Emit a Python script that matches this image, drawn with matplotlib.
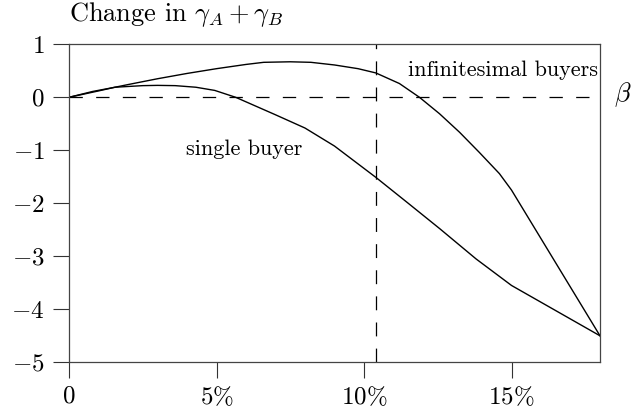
import matplotlib
matplotlib.use("Agg")
import matplotlib.pyplot as plt

plt.rcParams['font.family'] = ['cmr10']
plt.rcParams['mathtext.fontset'] = 'cm'
plt.rcParams['axes.unicode_minus'] = False
plt.rcParams['lines.scale_dashes'] = False

# Data (beta in percent, change in gamma_A + gamma_B)
beta_inf = [0, 1, 1.56, 2, 3, 4, 5, 6, 6.6, 7.5, 8.2, 9, 9.8, 10.4, 11.2, 11.88,
            12.56, 13.24, 13.91, 14.59, 15.0, 18]
val_inf = [0, 0.12, 0.19, 0.24, 0.35, 0.45, 0.54, 0.62, 0.66, 0.67, 0.66, 0.61, 0.54,
           0.46, 0.26, 0.0, -0.31, -0.66, -1.04, -1.44, -1.75, -4.5]

beta_single = [0, 0.8, 1.56, 2.5, 3.0, 3.6, 4.3, 4.94, 5.65, 7, 8, 9, 10.4, 11.5,
               12.57, 13.8, 15, 18]
val_single = [0, 0.11, 0.19, 0.22, 0.225, 0.22, 0.19, 0.13, 0.0, -0.33, -0.58, -0.92,
              -1.51, -2.0, -2.48, -3.05, -3.55, -4.5]

beta_marker = 10.4
xticks = [0, 5, 10, 15]
xticklabels = [r'$0$', r'$5\%$', r'$10\%$', r'$15\%$']
yticks = [1, 0, -1, -2, -3, -4, -5]
yticklabels = [r'$1$', r'$0$', r'$-1$', r'$-2$', r'$-3$', r'$-4$', r'$-5$']

W, H = 631, 416
fig = plt.figure(figsize=(W / 100, H / 100), dpi=100)
ax = fig.add_axes([69 / W, 1 - 362.3 / H, (600 - 69) / W, (362.3 - 44.3) / H])

ax.set_xlim(0, 18)
ax.set_ylim(-5, 1)

ax.plot([0, 18], [0, 0], color='black', lw=0.9, dashes=(9.6, 9.6), solid_capstyle='butt')
ax.plot([beta_marker, beta_marker], [-5, 1], color='black', lw=0.9, dashes=(10, 8.8))

ax.plot(beta_inf, val_inf, color='black', lw=1.0)
ax.plot(beta_single, val_single, color='black', lw=1.0)

ax.text(11.49, 0.40, 'infinitesimal buyers', fontsize=16, ha='left', va='baseline')
ax.text(3.98, -1.09, 'single buyer', fontsize=16, ha='left', va='baseline')
ax.text(18.48, 0.05, r'$\beta$', fontsize=19, ha='left', va='center', clip_on=False)

fig.text(69 / W, 1 - 21 / H, r'Change in $\gamma_A + \gamma_B$', fontsize=19,
         ha='left', va='baseline')

ax.set_xticks(xticks)
ax.set_xticklabels(xticklabels, fontsize=18)
ax.set_yticks(yticks)
ax.set_yticklabels(yticklabels, fontsize=18)
ax.tick_params(direction='out', length=11.5, width=0.8, color='#333333', pad=6)
ax.tick_params(axis='x', pad=5)
for s in ax.spines.values():
    s.set_linewidth(0.9)
    s.set_color('#444444')

fig.savefig('out.png', dpi=100)
